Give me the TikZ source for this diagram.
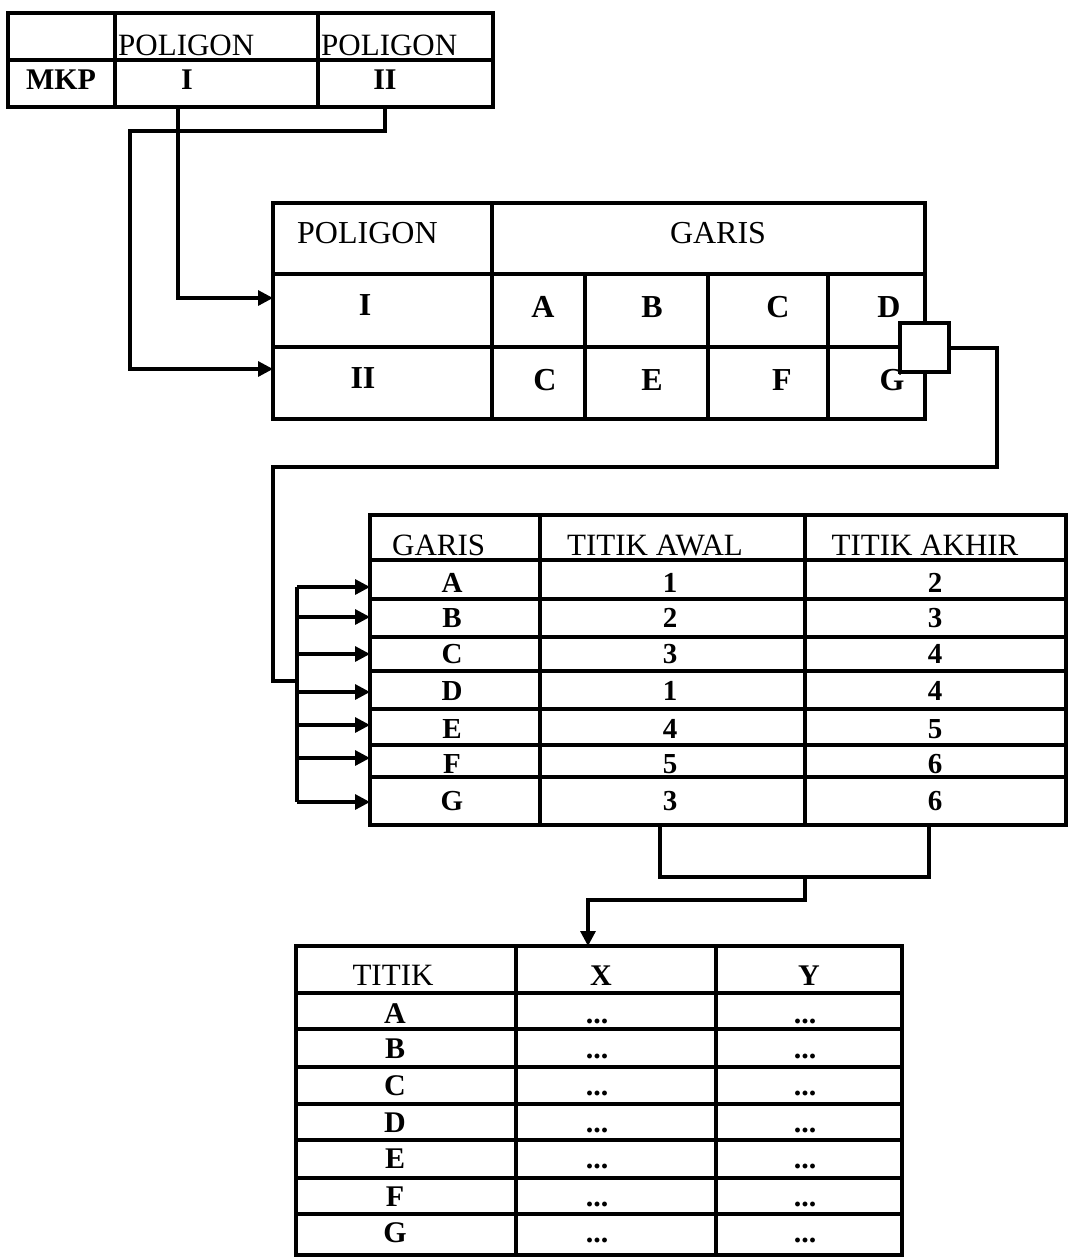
\documentclass[tikz,border=0pt]{standalone}
\usepackage{fontspec}
\setmainfont{Liberation Serif}
\usetikzlibrary{arrows.meta}
\begin{document}
\begin{tikzpicture}[x=1pt,y=-1pt,
  grid/.style={line width=3.2pt},
  conn/.style={line width=3.2pt},
  arr/.style={conn,-{Triangle[length=15pt,width=15pt]}},
  txt/.style={inner sep=0pt, anchor=base},
  hdA/.style={txt, font=\fontsize{31}{34}\selectfont},
  enA/.style={txt, font=\bfseries\fontsize{30}{34}\selectfont},
  hdB/.style={txt, font=\fontsize{32}{36}\selectfont},
  enB/.style={txt, font=\bfseries\fontsize{32}{36}\selectfont},
  hdC/.style={txt, font=\fontsize{31}{34}\selectfont},
  enC/.style={txt, font=\bfseries\fontsize{29}{32}\selectfont},
  hdD/.style={txt, font=\fontsize{31}{34}\selectfont},
  enD/.style={txt, font=\bfseries\fontsize{30}{32}\selectfont},
]
\useasboundingbox (0,0) rectangle (1070,1258);
\fill[white] (0,0) rectangle (1070,1258);

% ---------- Table 1 (MKP) ----------
\draw[grid] (8,13) rectangle (493,107);
\draw[grid] (8,60) -- (493,60);
\draw[grid] (115,13) -- (115,107);
\draw[grid] (318,13) -- (318,107);
\node[hdA, anchor=base west] (p1) at (118,55) {POLIGON};
\node[hdA, anchor=base west] (p2) at (321,55) {POLIGON};
\node[enA] (mkp) at (61,89) {MKP};
\node[enA] (m1) at (187,89) {I};
\node[enA] (m2) at (385,89) {II};

% ---------- Table 2 (POLIGON / GARIS) ----------
\draw[grid] (273,203) rectangle (925,419);
\draw[grid] (273,274) -- (925,274);
\draw[grid] (273,347) -- (925,347);
\draw[grid] (492,203) -- (492,419);
\foreach \x in {585,708,828} \draw[grid] (\x,274) -- (\x,419);
\node[hdB, anchor=base west] (pg) at (297,243) {POLIGON};
\node[hdB] (gr) at (718,243) {GARIS};
\node[enB] (r1) at (365,315) {I};
\node[enB] (r2) at (363,388) {II};
\foreach \x/\l/\n in {543/A/a, 652/B/b, 778/C/c, 889/D/d}
  \node[enB] (u\n) at (\x,317) {\l};
\foreach \x/\l/\n in {545/C/c, 652/E/e, 782/F/f, 892/G/g}
  \node[enB] (v\n) at (\x,390) {\l};
% small square
\draw[grid, fill=white] (900,323) rectangle (949,372);
\coordinate (sq) at (949,348);

% connectors table 1 -> table 2
\coordinate (i1) at (178,107);
\coordinate (i2) at (385,107);
\coordinate (t2a) at (273,298);
\coordinate (t2b) at (273,369);
\draw[arr] (i1) |- (t2a);
\draw[arr] (i2) -- (385,131) -- (130,131) |- (t2b);

% ---------- Table 3 (GARIS / TITIK AWAL / TITIK AKHIR) ----------
\draw[grid] (370,515) rectangle (1066,825);
\foreach \y in {560,599,637,671,709,745,777} \draw[grid] (370,\y) -- (1066,\y);
\draw[grid] (540,515) -- (540,825);
\draw[grid] (805,515) -- (805,825);
\node[hdC, anchor=base west] (g0) at (392,555) {GARIS};
\node[hdC] (aw) at (655,555) {TITIK AWAL};
\node[hdC] (ak) at (925,555) {TITIK AKHIR};
\foreach \l/\p/\q/\y in {A/1/2/592, B/2/3/627, C/3/4/663, D/1/4/700, E/4/5/738, F/5/6/773, G/3/6/810}{
  \node[enC] (g\l) at (452,\y) {\l};
  \node[enC] (ga\l) at (670,\y) {\p};
  \node[enC] (gb\l) at (935,\y) {\q};
}

% connector square -> table 3
\coordinate (bj) at (297,681);
\draw[conn] (sq) -- (997,348) -- (997,467) -- (273,467) -- (273,681) -- (bj);
\draw[conn] (297,587) -- (297,802);
\foreach \y/\n in {587/A, 617/B, 654/C, 692/D, 725/E, 758/F, 802/G}{
  \coordinate (s\n) at (297,\y);
  \coordinate (e\n) at (370,\y);
  \draw[arr] (s\n) -- (e\n);
}

% ---------- connector table 3 -> table 4 ----------
\coordinate (b1) at (660,825);
\coordinate (b2) at (929,825);
\coordinate (mid) at (805,877);
\coordinate (t4) at (588,946);
\draw[conn] (b1) -- (660,877) -- (929,877) -- (b2);
\draw[arr] (mid) -- (805,900) -- (588,900) -- (t4);

% ---------- Table 4 (TITIK / X / Y) ----------
\draw[grid] (296,946) rectangle (902,1255);
\foreach \y in {993,1029,1067,1104,1140,1178,1214} \draw[grid] (296,\y) -- (902,\y);
\draw[grid] (516,946) -- (516,1255);
\draw[grid] (716,946) -- (716,1255);
\node[hdD] (tt) at (393,985) {TITIK};
\node[enD] (xx) at (601,985) {X};
\node[enD] (yy) at (809,985) {Y};
\foreach \l/\y in {A/1023, B/1058, C/1095, D/1132, E/1168, F/1206, G/1242}{
  \node[enD] (k\l) at (395,\y) {\l};
  \node[enD] (kx\l) at (597,\y) {...};
  \node[enD] (ky\l) at (805,\y) {...};
}
\end{tikzpicture}
\end{document}
